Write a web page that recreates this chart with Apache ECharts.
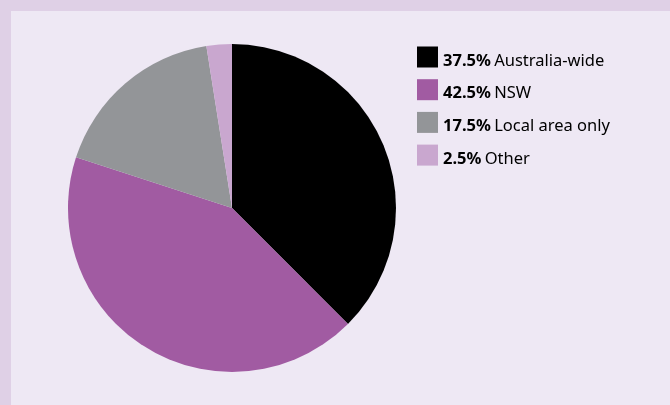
<!DOCTYPE html>
<html><head><meta charset="utf-8">
<script src="https://cdn.jsdelivr.net/npm/echarts@6/dist/echarts.min.js"></script>
<style>html,body{margin:0;padding:0;}#c{width:670px;height:405px;}</style>
</head><body><div id="c"></div>
<script>
const categories = ['Australia-wide', 'NSW', 'Local area only', 'Other'];
const percentLabels = ['37.5%', '42.5%', '17.5%', '2.5%'];
const values = [37.5, 42.5, 17.5, 2.5];
const colors = ['#000000', '#a15ba2', '#939598', '#c9a7cf'];

const chart = echarts.init(document.getElementById('c'));
const data = categories.map((name, i) => ({ name, value: values[i], itemStyle: { color: colors[i] } }));
chart.setOption({
  backgroundColor: '#dfd0e6',
  animation: false,
  graphic: [{ type: 'rect', left: 11, top: 11, z: -10, shape: { width: 659, height: 394 }, style: { fill: '#eee8f4' } }],
  legend: {
    orient: 'vertical',
    left: 417,
    top: 44.5,
    padding: 0,
    itemWidth: 21,
    itemHeight: 21,
    itemGap: 7.7,
    icon: 'rect',
    selectedMode: false,
    formatter: function (name) {
      const i = categories.indexOf(name);
      return '{b|' + percentLabels[i] + '} {n|' + name + '}';
    },
    textStyle: {
      rich: {
        b: { fontFamily: 'Noto Sans', fontWeight: 'bold', fontSize: 16.5, lineHeight: 14, color: '#000', padding: [8, 0, 0, 0] },
        n: { fontFamily: 'Noto Sans', fontSize: 16.5, lineHeight: 14, color: '#000', padding: [8, 0, 0, 0] }
      }
    }
  },
  series: [{
    type: 'pie',
    center: [232, 208],
    radius: 164,
    startAngle: 90,
    clockwise: true,
    label: { show: false },
    labelLine: { show: false },
    emphasis: { disabled: true },
    itemStyle: { borderWidth: 0 },
    data: data
  }]
});
</script></body></html>
